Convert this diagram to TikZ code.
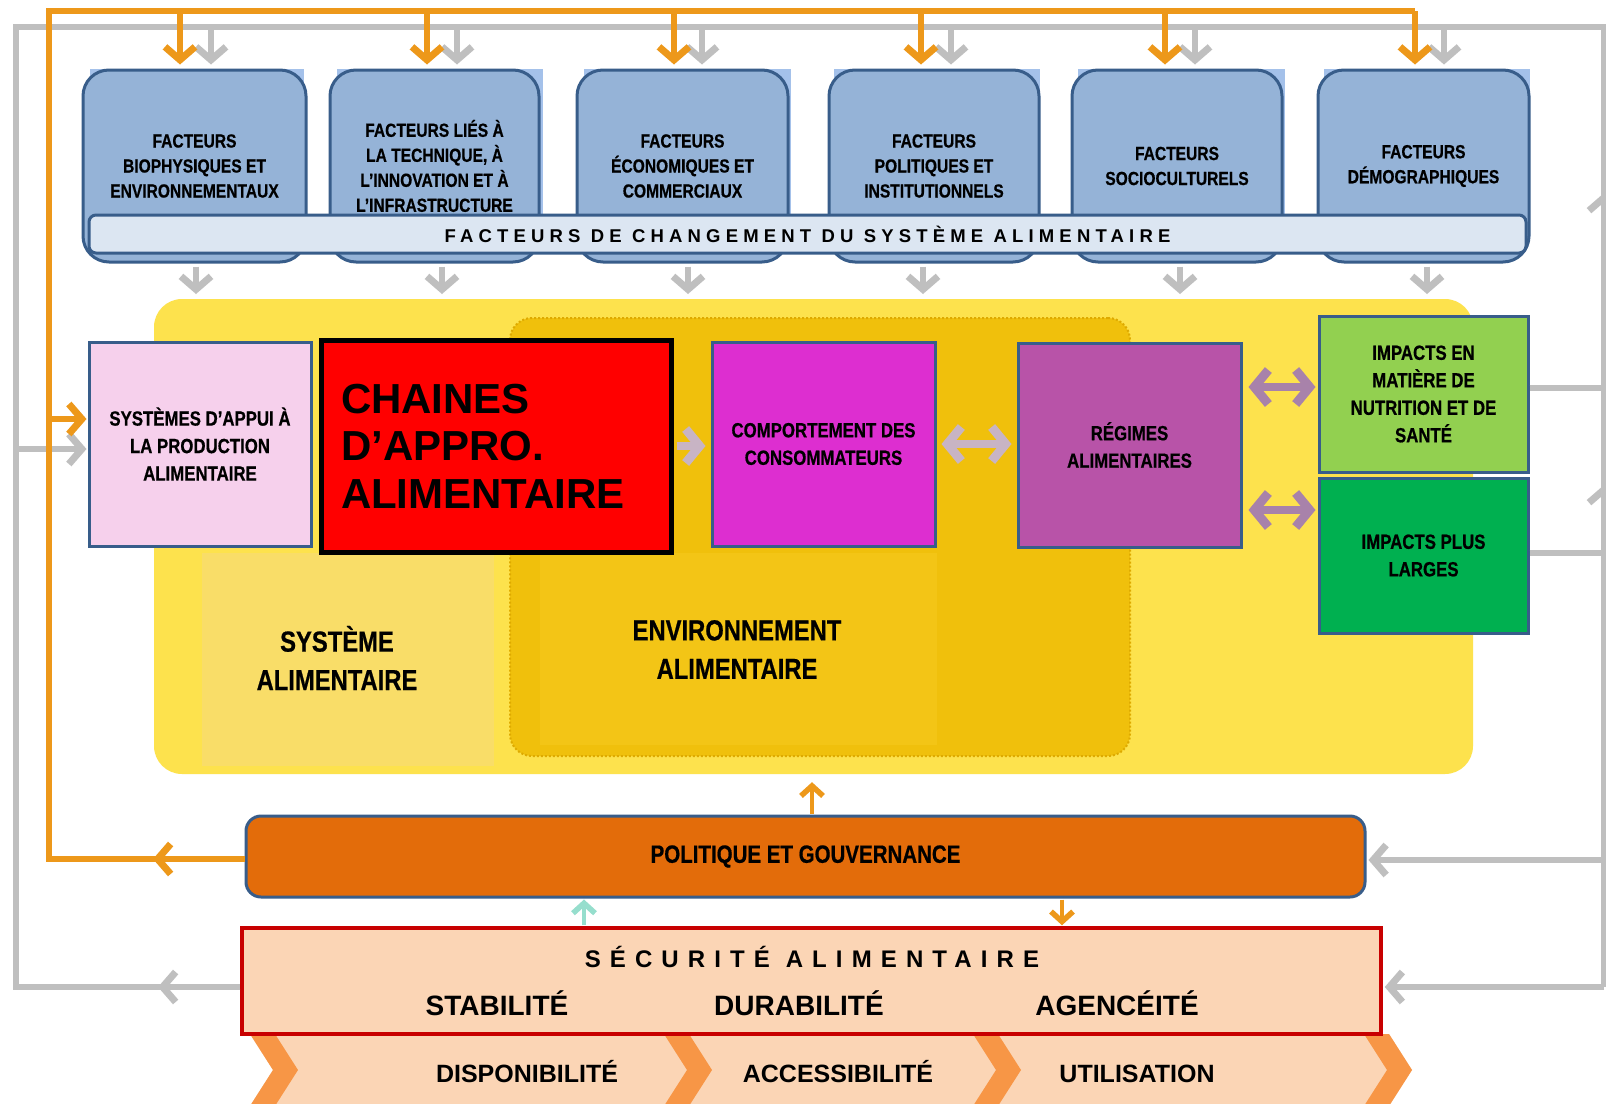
\documentclass[tikz,border=0pt]{standalone}
\usepackage{fontspec}
\setmainfont{Liberation Sans}
\newfontfamily\condf[FakeStretch=0.82,FakeBold=0.6]{Liberation Sans}
\newfontfamily\spacedA[LetterSpace=28]{Liberation Sans}
\newfontfamily\spacedB[LetterSpace=38]{Liberation Sans}
\usetikzlibrary{arrows.meta,calc}
\definecolor{orl}{RGB}{237,152,26}
\definecolor{grl}{RGB}{191,191,191}
\definecolor{factblue}{RGB}{149,179,215}
\definecolor{factlight}{RGB}{164,193,234}
\definecolor{bordblue}{RGB}{56,93,138}
\definecolor{bannerc}{RGB}{220,230,242}
\definecolor{sysy}{RGB}{253,226,77}
\definecolor{palesy}{RGB}{249,221,104}
\definecolor{envg}{RGB}{240,192,12}
\definecolor{envgb}{RGB}{243,197,22}
\definecolor{envb}{RGB}{222,170,0}
\definecolor{pinkc}{RGB}{246,208,236}
\definecolor{magc}{RGB}{221,46,208}
\definecolor{purc}{RGB}{184,83,168}
\definecolor{lgreen}{RGB}{146,208,80}
\definecolor{dgreen}{RGB}{0,176,80}
\definecolor{polc}{RGB}{227,108,10}
\definecolor{peach}{RGB}{251,213,181}
\definecolor{secr}{RGB}{200,0,0}
\definecolor{chevc}{RGB}{247,150,70}
\definecolor{mauveA}{RGB}{200,180,196}
\definecolor{mauveB}{RGB}{168,130,170}
\definecolor{tealc}{RGB}{150,222,205}
\begin{document}
\begin{tikzpicture}[x=1pt,y=-1pt,
  factbox/.style={draw=bordblue,line width=3pt,fill=factblue,rounded corners=26pt,minimum height=192pt,inner sep=2pt,align=center,font=\condf\bfseries\fontsize{19}{25}\selectfont},
  bannerbox/.style={draw=bordblue,line width=3pt,fill=bannerc,rounded corners=7pt,minimum width=1437pt,minimum height=38pt,inner sep=0pt,font=\spacedA\bfseries\fontsize{18.5}{18.5}\selectfont},
  midbox/.style={draw=bordblue,line width=3pt,minimum width=223pt,minimum height=204pt,inner sep=2pt,align=center,font=\condf\bfseries\fontsize{20.5}{27.5}\selectfont},
  biglab/.style={align=center,inner sep=0pt,font=\condf\bfseries\fontsize{29}{38.5}\selectfont},
  capt/.style={inner sep=0pt,text depth=0pt},
  gline/.style={draw=grl,line width=6pt},
  garr/.style={gline,-{Straight Barb[length=13pt,width=30pt,line width=7pt]}},
  oline/.style={draw=orl,line width=6pt},
  oarr/.style={oline,-{Straight Barb[length=13pt,width=30pt,line width=7pt]}},
  oarrs/.style={draw=orl,line width=4.5pt,-{Straight Barb[length=10pt,width=22pt,line width=5.5pt]}},
  tarrs/.style={draw=tealc,line width=4.5pt,-{Straight Barb[length=10pt,width=22pt,line width=5.5pt]}},
  marra/.style={draw=mauveA,line width=8pt,-{Straight Barb[length=14pt,width=34pt,line width=9pt]}},
  marrab/.style={draw=mauveA,line width=8pt,{Straight Barb[length=14pt,width=34pt,line width=9pt]}-{Straight Barb[length=14pt,width=34pt,line width=9pt]}},
  marrb/.style={draw=mauveB,line width=8pt,{Straight Barb[length=14pt,width=34pt,line width=9pt]}-{Straight Barb[length=14pt,width=34pt,line width=9pt]}},
]
\useasboundingbox (0,0) rectangle (1606,1103);
\fill[white] (0,0) rectangle (1606,1103);

% frame coordinates
\coordinate (gTL) at (16,27);
\coordinate (gTR) at (1604,27);
\coordinate (gBL) at (16,987);
\coordinate (gBR) at (1604,987);
\coordinate (gMidL) at (158,987);
\coordinate (gP) at (1604,860);
\coordinate (gR1) at (1604,388);
\coordinate (gR2) at (1604,553);
\coordinate (gU1) at (1604,193);
\coordinate (gU2) at (1604,485);
\coordinate (gPk) at (0,449);
\coordinate (oTL) at (49,11);
\coordinate (oTR) at (1415,11);
\coordinate (oBL) at (49,859);
\coordinate (oP) at (0,859);
\coordinate (oMid) at (153,859);
\coordinate (oPk) at (0,419);
\coordinate (sysTop) at (0,294);
\coordinate (c1) at (0,387);
\coordinate (c2) at (0,510);

% grey feedback frame
\draw[gline] (242,987) -- (gBL) -- (gTL) -- (gTR) -- (gBR);

% factor boxes
\foreach \a/\b in {90/304,337/543,584/791,834/1040,1078/1285,1324/1530}
  \fill[factlight] (\a,69) rectangle (\b,240);
\node[factbox,minimum width=223pt] (f1) at (194.5,166) {FACTEURS\\BIOPHYSIQUES ET\\ENVIRONNEMENTAUX};
\node[factbox,minimum width=209pt] (f2) at (434.5,166) {FACTEURS LIÉS À\\LA TECHNIQUE, À\\L’INNOVATION ET À\\L’INFRASTRUCTURE};
\node[factbox,minimum width=211pt] (f3) at (682.5,166) {FACTEURS\\ÉCONOMIQUES ET\\COMMERCIAUX};
\node[factbox,minimum width=210pt] (f4) at (934,166) {FACTEURS\\POLITIQUES ET\\INSTITUTIONNELS};
\node[factbox,minimum width=210pt] (f5) at (1177,166) {FACTEURS\\SOCIOCULTURELS};
\node[factbox,minimum width=211pt] (f6) at (1423.5,166) {FACTEURS\\DÉMOGRAPHIQUES};
\node[bannerbox] (ban) at (807.5,234) {FACTEURS DE CHANGEMENT DU SYSTÈME ALIMENTAIRE};

% food system
\node[fill=sysy,rounded corners=28pt,minimum width=1319pt,minimum height=475pt,inner sep=0pt] (sys) at (813.5,536.5) {};
\node[fill=palesy,minimum width=292pt,minimum height=213pt,inner sep=0pt] (pale) at (348,659.5) {};
\node[biglab] (syslab) at (337,658) {SYSTÈME\\ALIMENTAIRE};
\node[fill=envg,draw=envb,dotted,line width=2pt,rounded corners=22pt,minimum width=620pt,minimum height=438pt,inner sep=0pt] (env) at (820,537) {};
\fill[envgb] (540,553) rectangle (937,745);
\node[biglab] (envlab) at (737,649.5) {ENVIRONNEMENT\\ALIMENTAIRE};

% middle boxes
\node[midbox,fill=pinkc,minimum width=222pt] (pink) at (200,444) {SYSTÈMES D’APPUI À\\LA PRODUCTION\\ALIMENTAIRE};
\node[draw=black,line width=5pt,fill=red,minimum width=350pt,minimum height=212pt,text width=310pt,align=left,inner sep=0pt,font=\bfseries\fontsize{42}{47.5}\selectfont] (chain) at (496,446) {CHAINES\\D’APPRO.\\ALIMENTAIRE};
\node[midbox,fill=magc] (comp) at (823.5,444) {COMPORTEMENT DES\\CONSOMMATEURS};
\node[midbox,fill=purc] (reg) at (1129.5,445) {RÉGIMES\\ALIMENTAIRES};
\node[midbox,fill=lgreen,minimum width=209pt,minimum height=156pt] (imp1) at (1423.5,394) {IMPACTS EN\\MATIÈRE DE\\NUTRITION ET DE\\SANTÉ};
\node[midbox,fill=dgreen,minimum width=209pt,minimum height=155pt] (imp2) at (1423.5,555.5) {IMPACTS PLUS\\LARGES};

% middle arrows
\draw[marra,shorten <=3pt,shorten >=5pt] (chain.east) -- (comp.west |- chain.east);
\draw[marrab,shorten <=5pt,shorten >=5pt] (comp.east) -- (reg.west |- comp.east);
\draw[marrb,shorten <=6pt,shorten >=2pt] (reg.east |- c1) -- (imp1.west |- c1);
\draw[marrb,shorten <=6pt,shorten >=2pt] (reg.east |- c2) -- (imp2.west |- c2);

% policy and security
\node[draw=bordblue,line width=3pt,fill=polc,rounded corners=15pt,minimum width=1119pt,minimum height=81pt,inner sep=0pt,font=\condf\bfseries\fontsize{25}{25}\selectfont] (pol) at (805.5,856.5) {POLITIQUE ET GOUVERNANCE};
\fill[peach] (250,1034) -- (1389,1034) -- (1412,1070) -- (1389,1106) -- (250,1106) -- (273,1070) -- cycle;
\foreach \x in {250,664,973,1364}
  \fill[chevc] (\x,1034) -- ++(25,0) -- ++(23,36) -- ++(-23,36) -- ++(-25,0) -- ++(23,-36) -- cycle;
\node[draw=secr,line width=3.5pt,fill=peach,minimum width=1139pt,minimum height=106pt,inner sep=0pt] (sec) at (811.5,981) {};
\node[capt,text height=17pt,font=\spacedB\bfseries\fontsize{24}{24}\selectfont] (sectitle) at (812,959) {SÉCURITÉ ALIMENTAIRE};
\node[capt,text height=20pt,font=\bfseries\fontsize{28}{28}\selectfont] (stab) at (497,1005) {STABILITÉ};
\node[capt,text height=20pt,font=\bfseries\fontsize{28}{28}\selectfont] (dura) at (799,1005) {DURABILITÉ};
\node[capt,text height=20pt,font=\bfseries\fontsize{28}{28}\selectfont] (agen) at (1117,1005) {AGENCÉITÉ};
\node[capt,text height=18pt,font=\bfseries\fontsize{25}{25}\selectfont] (dispo) at (527,1073) {DISPONIBILITÉ};
\node[capt,text height=18pt,font=\bfseries\fontsize{25}{25}\selectfont] (acces) at (838,1073) {ACCESSIBILITÉ};
\node[capt,text height=18pt,font=\bfseries\fontsize{25}{25}\selectfont] (util) at (1137,1073) {UTILISATION};

% grey arrows
\foreach \n/\dx/\ex/\sx in {f1/-14.5/16.5/1.5, f2/-7.5/22.5/7.5, f3/-8.5/19.5/5.5, f4/-13/17/-11, f5/-12/18/3, f6/-8.5/20.5/3.5} {
  \path (\n.north) ++(\dx,-4) coordinate (o\n);
  \path (\n.north) ++(\ex,-4) coordinate (g\n);
  \path (\n.south) ++(\sx,3) coordinate (s\n);
  \draw[garr] (g\n |- gTL) -- (g\n);
  \draw[garr] (s\n) -- (s\n |- sysTop);
}
\draw[garr] (sec.west |- gBL) -- (gMidL);
\draw[garr,shorten >=2pt] (gBR) -- (sec.east |- gBR);
\draw[garr,shorten >=2pt] (gP) -- (pol.east |- gP);
\draw[gline] (imp1.east |- gR1) -- (gR1);
\draw[gline] (imp2.east |- gR2) -- (gR2);
\draw[garr] (gR1) -- (gU1);
\draw[garr] (gR2) -- (gU2);
\draw[garr,shorten >=1pt] (gTL |- gPk) -- (pink.west |- gPk);

% orange policy loop
\draw[oline] (pol.west |- oP) -- (oBL) -- (oTL) -- (oTR);
\draw[oarr] (pol.west |- oP) -- (oMid);
\foreach \n in {f1,f2,f3,f4,f5,f6} {
  \draw[oarr] (o\n |- oTL) -- (o\n);
}
\draw[oarr,shorten >=1pt] (oTL |- oPk) -- (pink.west |- oPk);

% small arrows around policy
\path (pol.north) ++(6.5,0) coordinate (pu);
\draw[oarrs,shorten <=1pt,shorten >=8pt] (pu) -- (pu |- sys.south);
\path (sec.north) ++(-227.5,0) coordinate (tu);
\draw[tarrs,shorten <=1pt,shorten >=1pt] (tu) -- (tu |- pol.south);
\path (pol.south) ++(256.5,0) coordinate (od);
\draw[oarrs,shorten <=1pt,shorten >=1pt] (od) -- (od |- sec.north);
\end{tikzpicture}
\end{document}
